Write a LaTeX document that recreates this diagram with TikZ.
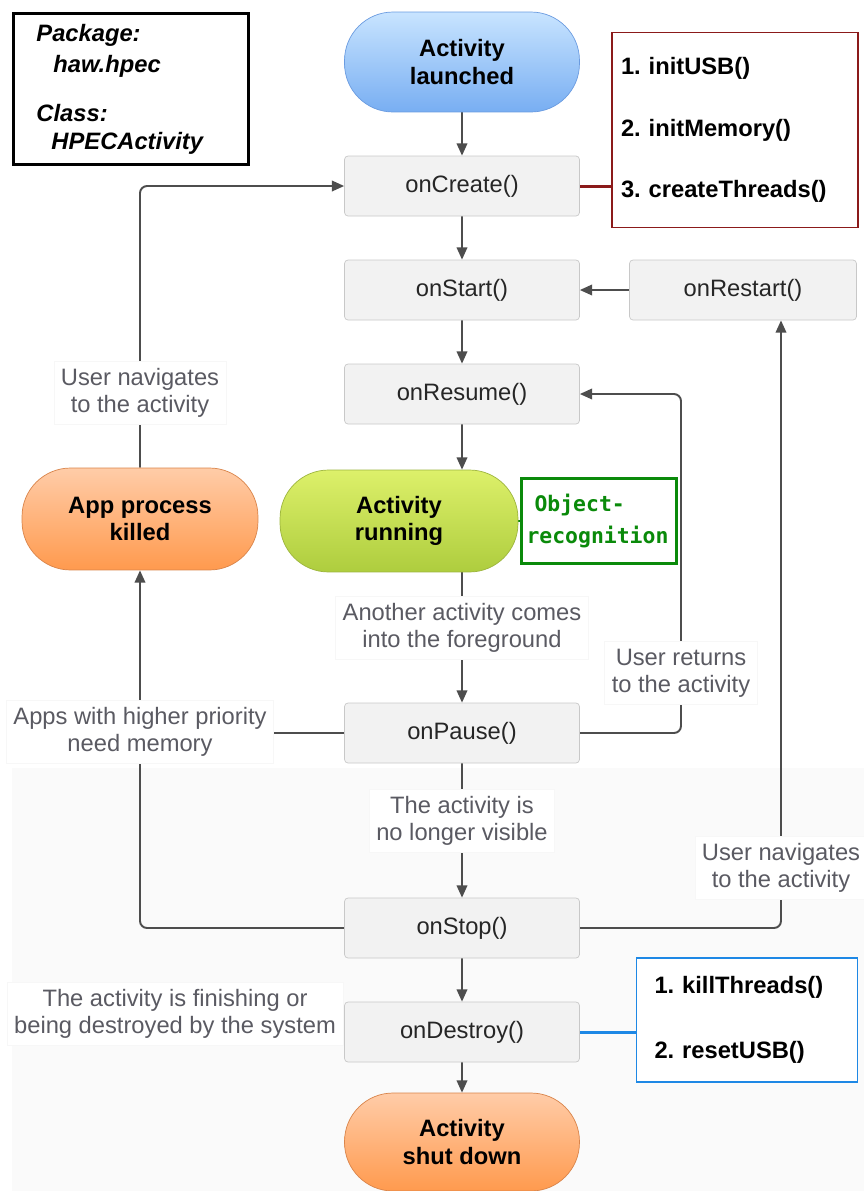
\documentclass[tikz,border=0pt]{standalone}
\usepackage{fontspec}
\setmainfont{Liberation Sans}
\newfontfamily\recfont{DejaVu Sans Mono}
\usetikzlibrary{arrows.meta,backgrounds}

\definecolor{boxfill}{HTML}{F2F2F2}
\definecolor{boxdraw}{HTML}{C8C8C8}
\definecolor{flowgray}{HTML}{4D4D4D}
\definecolor{labelgray}{HTML}{5A5A62}
\definecolor{blueTop}{HTML}{C8E4FF}
\definecolor{blueBot}{HTML}{78AEF2}
\definecolor{blueDraw}{HTML}{6A9BE0}
\definecolor{greenTop}{HTML}{DDF06A}
\definecolor{greenBot}{HTML}{AECD3E}
\definecolor{greenDraw}{HTML}{9DB53E}
\definecolor{orangeTop}{HTML}{FFCCA8}
\definecolor{orangeBot}{HTML}{FF9A4E}
\definecolor{orangeDraw}{HTML}{D9844A}
\definecolor{initRed}{HTML}{8B1A1A}
\definecolor{cleanBlue}{HTML}{1E88E5}
\definecolor{recGreen}{HTML}{0A8A0A}

\newcommand\fsz{\fontsize{13.5}{15.5}\selectfont}
\frenchspacing

\begin{document}
\begin{tikzpicture}[x=0.02cm, y=-0.02cm, >={Triangle[length=7pt,width=6pt]}]

% --- Styles ---
\tikzset{
    stepbox/.style={rectangle, rounded corners=2pt, fill=boxfill, draw=boxdraw, text=black!85, minimum width=4.7cm, minimum height=1.2cm, font=\fsz},
    pill/.style={rectangle, rounded corners=0.97cm, minimum width=4.7cm, minimum height=2cm, align=center, font=\fsz\bfseries, draw=#1Draw, top color=#1Top, bottom color=#1Bot},
    note/.style={fill=white, draw=black!3, align=center, text=labelgray, font=\fsz, inner sep=4pt},
    listbox/.style={rectangle, fill=white, line width=1pt, align=left, font=\fsz\bfseries},
    flow/.style={->, draw=flowgray, line width=1.1pt, rounded corners=4pt},
    plain/.style={draw=flowgray, line width=1.1pt}
}

\useasboundingbox (0,0) rectangle (864,1191);

    % Package / class
    \node[draw=black, line width=1.7pt, minimum width=4.7cm, minimum height=3.02cm, text width=3.78cm, inner xsep=0.46cm, align=left, font=\fsz\bfseries\itshape, anchor=north west] (pkg) at (12,12)
        {\baselineskip=18pt Package:\\\hspace*{0.34cm}haw.hpec\\[10pt]Class:\\\hspace*{0.3cm}HPECActivity};

    % Lifecycle
    \node[pill=blue] (launched) at (462,62) {Activity\\launched};
    \node[stepbox] (create) at (462,186) {onCreate()};
    \node[stepbox] (start) at (462,290) {onStart()};
    \node[stepbox, minimum width=4.54cm] (restart) at (743,290) {onRestart()};
    \node[stepbox] (resume) at (462,394) {onResume()};
    \node[pill=green, minimum width=4.76cm, minimum height=2.04cm] (running) at (399,521) {Activity\\running};
    \node[pill=orange, minimum width=4.72cm, minimum height=2.04cm] (killed) at (140,519) {App process\\killed};
    \node[stepbox] (pause) at (462,733) {onPause()};
    \node[stepbox] (stop) at (462,928) {onStop()};
    \node[stepbox] (destroy) at (462,1032) {onDestroy()};
    \node[pill=orange, minimum height=1.96cm] (shutdown) at (462,1142) {Activity\\shut down};

    % Own code
    \node[listbox, draw=initRed, minimum width=4.92cm, minimum height=3.9cm, text width=4.56cm, inner xsep=0.18cm] (initbox) at (735,130)
        {1. initUSB()\\[19.5pt]2. initMemory()\\[19.5pt]3. createThreads()};
    \node[listbox, draw=cleanBlue, minimum width=4.42cm, minimum height=2.48cm, text width=3.7cm, inner xsep=0.36cm] (cleanbox) at (747,1020)
        {1. killThreads()\\[21.3pt]2. resetUSB()};
    \node[rectangle, fill=white, draw=recGreen, line width=1.7pt, minimum width=3.1cm, minimum height=1.7cm, text width=2.9cm, inner xsep=0.1cm, align=left, text=recGreen, font=\recfont\fontsize{12.2}{18.7}\selectfont\bfseries] (objrec) at (599,521)
        {\hspace*{0.16cm}Object-\\recognition};

    % Transition labels
    \node[note] (navA) at (140,393) {User navigates\\to the activity};
    \node[note] (fgLbl) at (462,628) {Another activity comes\\into the foreground};
    \node[note] (retLbl) at (681,673) {User returns\\to the activity};
    \node[note] (memLbl) at (140,732) {Apps with higher priority\\need memory};
    \node[note] (invisLbl) at (462,821) {The activity is\\no longer visible};
    \node[note] (navB) at (781,868) {User navigates\\to the activity};
    \node[note] (finLbl) at (175,1014) {The activity is finishing or\\being destroyed by the system};

    % Connectors
    \begin{scope}[on background layer]
        \fill[black!2] (12,768) rectangle (864,1191);
        \draw[flow] (launched) -- (create);
        \draw[flow] (create) -- (start);
        \draw[flow] (start) -- (resume);
        \draw[flow] (resume.south) -- (resume.south |- running.north);
        \draw[flow] (running.south -| pause.north) -- (pause.north);
        \draw[flow] (pause) -- (stop);
        \draw[flow] (stop) -- (destroy);
        \draw[flow] (destroy) -- (shutdown);
        \draw[flow] (restart.west) -- (start.east);
        \draw[flow] (pause.east) -| (retLbl.center) |- (resume.east);
        \draw[flow] (stop.east) -| (restart.south -| navB);
        \draw[flow] (killed.north) |- (create.west);
        \draw[flow] (stop.west) -| (killed.south);
        \draw[plain] (pause.west) -- (pause.west -| killed.south);
        \draw[initRed, line width=1.7pt] (create.east) -- (create.east -| initbox.west);
        \draw[cleanBlue, line width=1.7pt] (destroy.east) -- (destroy.east -| cleanbox.west);
        \draw[recGreen, line width=1.2pt] (running.east) -- (objrec.west);
    \end{scope}

\end{tikzpicture}
\end{document}
